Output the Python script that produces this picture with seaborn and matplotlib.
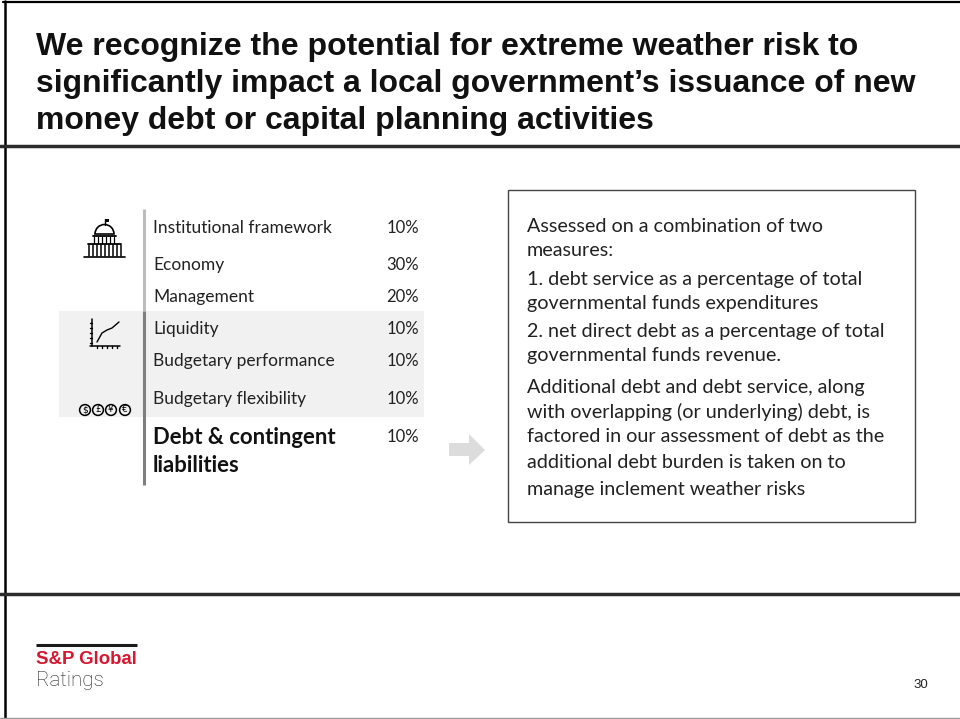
import matplotlib
matplotlib.use("Agg")
import matplotlib.pyplot as plt
from matplotlib.patches import Rectangle, Polygon, Circle, Wedge
import seaborn as sns

title_lines = [
    "We recognize the potential for extreme weather risk to",
    "significantly impact a local government\u2019s issuance of new",
    "money debt or capital planning activities",
]
factors = ["Institutional framework", "Economy", "Management", "Liquidity",
           "Budgetary performance", "Budgetary flexibility"]
weights = ["10%", "30%", "20%", "10%", "10%", "10%"]
factor_rows = [228, 265, 297, 329, 361, 399]
focus_lines = ["Debt & contingent", "liabilities"]
focus_weight = "10%"
note_lines = [
    ("Assessed on a combination of two", 226),
    ("measures:", 251),
    ("1. debt service as a percentage of total", 280),
    ("governmental funds expenditures", 304),
    ("2. net direct debt as a percentage of total", 331),
    ("governmental funds revenue.", 355),
    ("Additional debt and debt service, along", 387),
    ("with overlapping (or underlying) debt, is", 412),
    ("factored in our assessment of debt as the", 437),
    ("additional debt burden is taken on to", 462),
    ("manage inclement weather risks", 489),
]
page_number = "30"

sns.set_theme(style="white")
plt.rcParams["font.family"] = ["Lato", "DejaVu Sans"]

fig = plt.figure(figsize=(9.6, 7.19), dpi=100)
ax = fig.add_axes([0, 0, 1, 1])
ax.set_xlim(0, 960)
ax.set_ylim(719, 0)
ax.axis("off")

INK = "#222222"
HEAD = "Liberation Sans"

# Slide frame and section rules
ax.plot([5, 5], [1, 719], color="black", lw=1.8)
ax.plot([3, 960], [2, 2], color="black", lw=1.6)
ax.plot([0, 960], [145.5, 145.5], color="#2b2b2b", lw=2.5)
ax.plot([0, 960], [593.5, 593.5], color="#2b2b2b", lw=2.5)
ax.plot([0, 960], [718, 718], color="#999999", lw=1.0)

# Title
for text, y in zip(title_lines, [47, 84, 121]):
    ax.text(36, y, text, family=HEAD, fontsize=23, fontweight="bold",
            color="#111111", va="center", ha="left")

# Shaded band behind the financial factors
ax.add_patch(Rectangle((59, 311), 365, 106, fc="#f1f1f1", ec="none"))

# Vertical divider, lighter for the upper group
ax.plot([143.5, 143.5], [209, 311], color="#bdbdbd", lw=2.2, solid_capstyle="butt")
ax.plot([143.5, 143.5], [311, 485], color="#7f7f7f", lw=2.2, solid_capstyle="butt")

# Factor table
for name, weight, y in zip(factors, weights, factor_rows):
    ax.text(153, y, name, fontsize=12.55, color=INK, va="center", ha="left")
    ax.text(402.5, y, weight, fontsize=12, color=INK, va="center", ha="center")
for text, y in zip(focus_lines, [438, 466]):
    ax.text(153, y, text, fontsize=15.9, fontweight="bold", color="#111111",
            va="center", ha="left")
ax.text(402.5, 437, focus_weight, fontsize=12, color=INK, va="center", ha="center")

# Capitol icon
ax.plot([84, 125], [256.5, 256.5], color="black", lw=1.2)
ax.plot([88, 121], [244, 244], color="black", lw=1.3)
ax.plot([93, 116], [236, 236], color="black", lw=1.3)
for x in range(89, 122, 4):
    ax.plot([x, x], [245, 256], color="black", lw=1.1)
for x in range(94, 116, 4):
    ax.plot([x, x], [237, 243], color="black", lw=0.9)
ax.add_patch(Wedge((104.5, 234), 9.5, 180, 360, fc="white", ec="black", lw=1.2))
ax.plot([105, 105], [219, 225], color="black", lw=1.0)
ax.add_patch(Rectangle((105, 219), 3.5, 3, fc="black", ec="none"))

# Growth-chart icon
ax.plot([92, 92], [319, 345.5], color="black", lw=1.1)
ax.plot([90, 120], [345.5, 345.5], color="black", lw=1.1)
ax.plot([97, 102, 107, 112, 119], [342, 333, 330, 328, 322], color="black", lw=1.0)
for y in range(323, 345, 5):
    ax.plot([90, 92], [y, y], color="black", lw=1.0)
for x in range(97, 120, 5):
    ax.plot([x, x], [345.5, 347.5], color="black", lw=1.0)

# Currency icons
for x, sign in zip([85, 98, 111, 125], ["$", "£", "¥", "€"]):
    ax.add_patch(Circle((x, 410), 5.4, fc="#f1f1f1", ec="black", lw=1.1))
    ax.text(x, 410, sign, fontsize=6.5, family="DejaVu Sans", color="black",
            ha="center", va="center")

# Arrow pointing to the note box
ax.add_patch(Polygon([(449, 443), (469, 443), (469, 434), (485, 450),
                      (469, 465), (469, 456), (449, 456)], fc="#dcdcdc", ec="none"))

# Note box
ax.add_patch(Rectangle((508, 190), 407, 332, fc="white", ec="#444444", lw=1.0))
for text, y in note_lines:
    ax.text(527, y, text, fontsize=14.2, color=INK, va="center", ha="left")

# Footer logo and page number
ax.plot([36, 137], [645, 645], color="#1a1a1a", lw=2.2, solid_capstyle="butt")
ax.text(36, 659, "S&P Global", family=HEAD, fontsize=13.4, fontweight="bold",
        color="#d6172f", va="center", ha="left")
ax.text(36, 681, "Ratings", family="Roboto", fontsize=14.8, fontweight="light",
        color="#222222", va="center", ha="left")
ax.text(921, 685, page_number, family=HEAD, fontsize=9.5, color=INK,
        va="center", ha="center")

fig.savefig("out.png", dpi=100)
